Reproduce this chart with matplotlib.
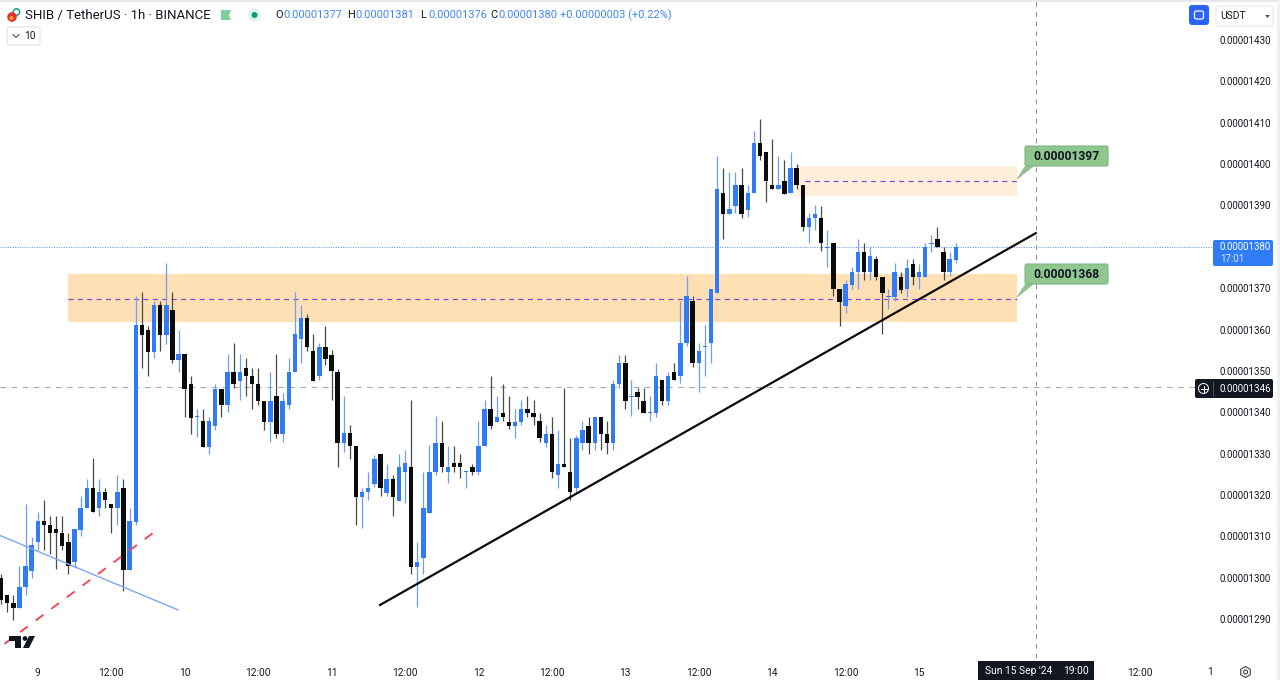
import numpy as np
import matplotlib
matplotlib.use("Agg")
import matplotlib.pyplot as plt
from matplotlib.patches import FancyBboxPatch, Rectangle, Polygon, Circle, RegularPolygon
from matplotlib.ticker import FuncFormatter

plt.rcParams['font.family'] = ['Roboto', 'DejaVu Sans']

# prices are in units of 0.00000001, hours counted from 9 Sep 00:00
first_hour = -6
opens = [
    1299.9, 1295.8, 1293.8, 1292.6, 1297.7, 1301.7, 1308.7, 1313.8, 1312.8, 1311.7,
    1310.8, 1308.7, 1303.7, 1311.6, 1316.8, 1321.8, 1316.8, 1320.8, 1317.8, 1316.8,
    1321.8, 1301.9, 1313.5, 1361, 1360, 1354.6, 1365.9, 1358.6, 1364.8, 1352.6,
    1354, 1346.8, 1338.8, 1337.8, 1331.6, 1336.7, 1345.7, 1341.7, 1349.8, 1347.6,
    1350.8, 1348.7, 1346.8, 1342.8, 1337.7, 1343.9, 1334.7, 1341.7, 1349.8, 1357.8,
    1362.7, 1354.8, 1348.7, 1355.7, 1353.8, 1349.8, 1332.6, 1334.9, 1331.8, 1319.6,
    1320.6, 1322.6, 1329.8, 1320.5, 1323.8, 1318.6, 1325.6, 1326.8, 1302.7, 1304.7,
    1315.7, 1325.6, 1332.6, 1325.6, 1327.8, 1327.8, 1325.6, 1326.7, 1325.6, 1331.8,
    1340.7, 1337.7, 1339.9, 1337.7, 1336.7, 1337.7, 1340.7, 1339.9, 1337.9, 1332.6,
    1334.7, 1324.8, 1327.6, 1325.6, 1321.8, 1332.6, 1336.7, 1332.6, 1338.9, 1334.7,
    1332.6, 1346.8, 1351.8, 1343.8, 1344.9, 1342.8, 1339.8, 1339.7, 1347.8, 1342.8,
    1349.8, 1348.8, 1356.8, 1367, 1351.9, 1355.8, 1356.8, 1368.9, 1392.9, 1387.9,
    1389.9, 1395, 1388.9, 1392.9, 1405, 1403, 1395, 1393.9, 1396, 1392.9,
    1399, 1395, 1384.7, 1386.9, 1386.9, 1379.8, 1380.8, 1369.7, 1365.7, 1370.7,
    1373.8, 1378.8, 1373.8, 1377, 1372.8, 1367.8, 1367.8, 1372.8, 1369.7, 1375.8,
    1372.8, 1372.8, 1380.7, 1381.9, 1378.8, 1373.8, 1376.9,
]
closes = [
    1294.6, 1293.8, 1292.6, 1297.7, 1302.9, 1307.9, 1313.8, 1312.8, 1310.8, 1310.8,
    1307.7, 1302.9, 1311.7, 1316.8, 1321.8, 1315.8, 1320.8, 1318.7, 1316.8, 1320.8,
    1301.9, 1313.8, 1361, 1358.6, 1354.6, 1365.9, 1358.6, 1365.9, 1352.6, 1354,
    1345.7, 1338.7, 1339, 1331.6, 1337.8, 1345.7, 1341.7, 1349.8, 1346.8, 1349.8,
    1348.7, 1346.8, 1342.7, 1337.7, 1342.8, 1334.7, 1342.8, 1349.8, 1358.9, 1362.7,
    1355.7, 1347.6, 1355.7, 1352.8, 1350, 1332.6, 1334.9, 1331.8, 1319.6, 1320.8,
    1321.8, 1328.8, 1321.8, 1323.8, 1319.6, 1326.8, 1327.8, 1302.7, 1303.7, 1316.8,
    1325.6, 1332.6, 1326.7, 1326.7, 1326.7, 1326.7, 1325.8, 1325.6, 1331.8, 1340.7,
    1336.7, 1338.9, 1338.8, 1336.7, 1337.7, 1340.7, 1339.7, 1338.8, 1333.7, 1334.7,
    1325.6, 1327.6, 1326.7, 1320.6, 1333.7, 1335.7, 1332.6, 1338.9, 1334.7, 1332.6,
    1346.8, 1351.8, 1342.8, 1344, 1343.7, 1339.9, 1340, 1348.7, 1342.8, 1348.7,
    1347.8, 1356.8, 1368, 1351.9, 1354.9, 1356, 1369.8, 1393.9, 1387.9, 1389.1,
    1395, 1387.9, 1392.9, 1405, 1401.9, 1395.9, 1393.9, 1395, 1392.8, 1399,
    1395, 1384.7, 1386.9, 1387.9, 1380.8, 1380, 1369.7, 1366.7, 1370.9, 1373.8,
    1378.8, 1373.8, 1377.8, 1372.8, 1368.9, 1368, 1373.8, 1369.5, 1374.8, 1372.8,
    1373.8, 1379.9, 1380.9, 1379.9, 1373.8, 1377, 1379.9,
]
highs = [
    1301, 1295.8, 1295.8, 1302.9, 1317.8, 1309.9, 1315.8, 1318.8, 1314.8, 1314.8,
    1314.8, 1310.8, 1311.7, 1319.8, 1323.8, 1328.9, 1323.8, 1321.8, 1317.8, 1324.9,
    1323.8, 1316.8, 1368, 1369, 1360.8, 1366.9, 1366.9, 1376, 1369, 1360,
    1354, 1348.7, 1340.9, 1340.7, 1338.9, 1346.8, 1345.7, 1354, 1356.8, 1354,
    1353, 1350.8, 1350.8, 1342.8, 1349.8, 1354, 1344.7, 1353, 1369, 1365.9,
    1363.7, 1358.9, 1356.8, 1360.9, 1355, 1350.5, 1343.9, 1336.9, 1331.8, 1321.6,
    1325.6, 1329.7, 1329.8, 1327.6, 1324.8, 1329.9, 1330.9, 1343, 1308.7, 1325.6,
    1332, 1339, 1337.9, 1331.8, 1331.8, 1329.8, 1325.8, 1327.6, 1337.9, 1343,
    1348.7, 1343.9, 1346.8, 1343.9, 1340.7, 1343, 1343.9, 1343, 1339.7, 1336.9,
    1338.9, 1335.7, 1345.8, 1333.7, 1334.6, 1337.9, 1338.9, 1338.9, 1338.9, 1337.9,
    1347.8, 1353.9, 1353.9, 1347.8, 1345.8, 1345.8, 1343.9, 1351.8, 1347.8, 1349.8,
    1351.9, 1367, 1373, 1368, 1356.8, 1361.1, 1369.8, 1402, 1399, 1398,
    1398, 1399, 1395, 1408, 1411, 1403, 1406, 1402, 1401, 1403,
    1400, 1395, 1388.1, 1390.1, 1389.9, 1384, 1380.8, 1369.7, 1372, 1375,
    1381.9, 1380.8, 1379.9, 1377.8, 1372.8, 1369.7, 1376, 1373.8, 1377, 1377,
    1375.8, 1380.8, 1382.8, 1384.8, 1379.9, 1378.8, 1380.8,
]
lows = [
    1293.7, 1291.8, 1289.8, 1292.6, 1295.8, 1299.9, 1306.7, 1306.7, 1305.8, 1302.1,
    1306.7, 1300.9, 1302.3, 1310, 1316.8, 1315.8, 1314.8, 1316.8, 1310.8, 1312.8,
    1296.7, 1301.9, 1312.7, 1350.8, 1348.8, 1353, 1354.8, 1356.6, 1352, 1349.8,
    1338.9, 1334.7, 1334, 1331.6, 1330, 1335.8, 1338.9, 1340.1, 1345.9, 1342.9,
    1343.9, 1340.7, 1341.7, 1335.8, 1332.9, 1333.8, 1332.9, 1340.9, 1349.8, 1351.8,
    1354.8, 1347.6, 1347.9, 1351.4, 1343, 1326.8, 1330.5, 1328.8, 1312.7, 1311.9,
    1318.9, 1322, 1319.8, 1319.7, 1314.9, 1318.6, 1318, 1300.9, 1293, 1300.9,
    1315.7, 1324.8, 1325.6, 1322.8, 1325.6, 1324, 1321.8, 1324.8, 1324.8, 1331.8,
    1335.9, 1337.7, 1338, 1335.9, 1333.7, 1336.9, 1338.9, 1336.9, 1332.9, 1331.7,
    1324, 1321.8, 1326.7, 1318.9, 1320.8, 1330.9, 1329.9, 1330.9, 1330.9, 1330,
    1330.9, 1345.8, 1340.7, 1339, 1340.7, 1339.7, 1337.9, 1338.9, 1341.7, 1341.7,
    1347.8, 1347, 1355.9, 1350.9, 1345, 1348.8, 1351.9, 1368.9, 1382, 1387.9,
    1388.1, 1386.9, 1387.2, 1392.9, 1401, 1390.9, 1393.9, 1393.9, 1392.8, 1392.9,
    1394, 1383.9, 1380.9, 1384.1, 1379, 1375, 1368.1, 1360.9, 1363.9, 1369.9,
    1369.9, 1372, 1372, 1372, 1358.9, 1364.9, 1367, 1368.9, 1367.9, 1370.7,
    1369.9, 1372.8, 1378.8, 1379.9, 1372, 1373, 1376.1,
]

price_ticks = [1290, 1300, 1310, 1320, 1330, 1340, 1350, 1360, 1370, 1390, 1400, 1410, 1420, 1430]
time_ticks = [0, 12, 24, 36, 48, 60, 72, 84, 96, 108, 120, 132, 144, 180]
time_labels = ['9', '12:00', '10', '12:00', '11', '12:00', '12', '12:00', '13', '12:00', '14', '12:00', '15', '12:00']

zone_hours = [4.93, 159.97]
zone_prices = [1361.8, 1373.4]
zone_mid = 1367.5
upper_zone_hours = [124.07, 159.97]
upper_zone_prices = [1392.3, 1399.5]
upper_zone_mid = 1395.9
upper_mid_start = 125.4

trend_hours = [55.92, 163.07]
trend_prices = [1293.4, 1383.3]
blue_line_hours = [-6.18, 22.91]
blue_line_prices = [1310.2, 1292.2]
red_line_hours = [-6.18, 18.82]
red_line_prices = [1283.2, 1310.8]

last_price = 1380
cross_price = 1346
cross_hour = 163.07

UP = '#2f7cf6'
UP_WICK = '#6d9ff5'
DOWN = '#0b0b0b'
DOWN_WICK = '#4a4a4a'
TEXT = '#131722'
DARK = '#131722'
MID = '#7a4fd6'

W, H = 1280, 680
PANE_R, PANE_B = 1212, 658
ORIGIN_X = 37.8
PX_PER_HOUR = 6.12
PX_PER_UNIT = 4.136

fig = plt.figure(figsize=(W / 100, H / 100), dpi=100, facecolor='white')
ax = fig.add_axes([0, 1 - PANE_B / H, PANE_R / W, PANE_B / H])
ax.set_xlim((0 - ORIGIN_X) / PX_PER_HOUR, (PANE_R - ORIGIN_X) / PX_PER_HOUR)
ax.set_ylim(1430 - (PANE_B - 40) / PX_PER_UNIT, 1430 + 40 / PX_PER_UNIT)
for s in ax.spines.values():
    s.set_visible(False)

ax.yaxis.tick_right()
ax.set_yticks(price_ticks)
ax.yaxis.set_major_formatter(FuncFormatter(lambda v, pos: f"0.{int(v):08d}"))
ax.set_xticks(time_ticks)
ax.set_xticklabels(time_labels)
ax.tick_params(axis='y', length=0, pad=5.5, labelsize=7.0, labelcolor=TEXT)
ax.tick_params(axis='x', length=0, pad=7.2, labelsize=7.3, labelcolor=TEXT)

# zones
ax.add_patch(Rectangle((zone_hours[0], zone_prices[0]), zone_hours[1] - zone_hours[0],
                       zone_prices[1] - zone_prices[0], fc='#ffe0b5', ec='none', zorder=1))
ax.add_patch(Rectangle((upper_zone_hours[0], upper_zone_prices[0]), upper_zone_hours[1] - upper_zone_hours[0],
                       upper_zone_prices[1] - upper_zone_prices[0], fc='#feeeda', ec='none', zorder=1))
ax.plot(zone_hours, [zone_mid, zone_mid], color=MID, lw=0.9, ls=(0, (4, 3.5)), zorder=1.5)
ax.plot([upper_mid_start, upper_zone_hours[1]], [upper_zone_mid, upper_zone_mid],
        color=MID, lw=0.9, ls=(0, (4, 3.5)), zorder=1.5)

# crosshair and last price line
ax.axhline(last_price, color='#4f8ff0', lw=0.7, ls=(0, (1, 1.5)), zorder=1.6)
ax.axhline(cross_price, color='#a8a8a8', lw=0.8, ls=(0, (5, 5)), zorder=1.6)
ax.axvline(cross_hour, color='#8c8c8c', lw=0.7, ls=(0, (5, 5)), zorder=1.6)

# candles
hours = np.arange(first_hour, first_hour + len(opens))
o = np.array(opens)
c = np.array(closes)
up = c >= o
ax.vlines(hours[up], np.array(lows)[up], np.array(highs)[up], color=UP_WICK, lw=0.9, zorder=2)
ax.vlines(hours[~up], np.array(lows)[~up], np.array(highs)[~up], color=DOWN_WICK, lw=0.9, zorder=2)
ax.bar(hours, np.abs(c - o), bottom=np.minimum(o, c), width=0.72,
       color=[UP if u else DOWN for u in up], lw=0, zorder=3)

# drawn lines
ax.plot(blue_line_hours, blue_line_prices, color='#7ea6f4', lw=1.0, zorder=4)
ax.plot(red_line_hours, red_line_prices, color='#f04a5c', lw=1.4, ls=(7.1, (5, 5)), zorder=4)
ax.plot(trend_hours, trend_prices, color='#0b0b0b', lw=1.6, zorder=5)

# overlay in pixel coordinates for the interface parts
ov = fig.add_axes([0, 0, 1, 1], facecolor='none')
ov.set_xlim(0, W)
ov.set_ylim(H, 0)
ov.axis('off')


def box(x0, y0, x1, y1, fc, ec='none', r=2, lw=0.8, z=6):
    ov.add_patch(FancyBboxPatch((x0 + r, y0 + r), x1 - x0 - 2 * r, y1 - y0 - 2 * r,
                                boxstyle=f"round,pad={r},rounding_size={r}", fc=fc, ec=ec, lw=lw, zorder=z))


ov.add_patch(Rectangle((0, 0), W, 1.5, fc='#e6e8ee', ec='none', zorder=6))
ov.add_patch(Rectangle((1277, 0), 3, H, fc='#eef0f5', ec='none', zorder=6))

# callouts
for y_top, tip_y, label in [(146, 179, '0.00001397'), (264, 297, '0.00001368')]:
    ov.add_patch(Polygon([(1017, tip_y), (1027, y_top + 18), (1036, y_top + 18)], fc='#8fc48f', ec='#9ab89a', lw=0.6, zorder=6))
    box(1025, y_top, 1108, y_top + 20, '#8fc78f', ec='#7fb583', r=2)
    ov.text(1066, y_top + 10, label, ha='center', va='center', fontsize=8.7, fontweight='bold', color=TEXT, zorder=7)

# price labels
box(1213, 240, 1273, 266, '#2f7cf6', r=2)
ov.text(1220, 247.5, '0.00001380', color='white', fontsize=7.0, va='center', zorder=7)
ov.text(1220, 259, '17:01', color='#dce8ff', fontsize=7.0, va='center', zorder=7)
box(1195, 379, 1273, 398, DARK, r=2)
ov.plot([1213, 1213], [381, 396], color='#555a66', lw=0.6, zorder=7)
ov.add_patch(Circle((1203.5, 388.5), 5, fc='none', ec='white', lw=0.7, zorder=7))
ov.plot([1200.5, 1206.5], [388.5, 388.5], color='white', lw=0.7, zorder=7)
ov.plot([1203.5, 1203.5], [385.5, 391.5], color='white', lw=0.7, zorder=7)
ov.text(1220, 388.5, '0.00001346', color='white', fontsize=7.0, va='center', zorder=7)

# time axis
ov.add_patch(Rectangle((978, 661), 116, 19, fc=DARK, ec='none', zorder=6))
ov.text(985, 671.5, "Sun 15 Sep '24", color='white', fontsize=7.4, va='center', zorder=7)
ov.text(1063, 671.5, '19:00', color='white', fontsize=7.4, va='center', zorder=7)
ov.text(1210, 672, '1', color=TEXT, fontsize=7.3, ha='center', va='center', zorder=7)
ov.add_patch(RegularPolygon((1245.5, 672), 6, radius=5.5, fc='none', ec='#3a3f4b', lw=0.8, zorder=7))
ov.add_patch(Circle((1245.5, 672), 2, fc='none', ec='#3a3f4b', lw=0.8, zorder=7))

# header
ov.add_patch(Circle((12, 17), 4.8, fc='#e5322d', ec='none', zorder=7))
ov.add_patch(Circle((11.5, 18), 2, fc='#f6a623', ec='none', zorder=7))
ov.add_patch(Circle((16.5, 12), 3.2, fc='none', ec='#1f9e8f', lw=1.1, zorder=6))
ov.text(25, 15.5, 'SHIB / TetherUS · 1h · BINANCE', color=TEXT, fontsize=9.5, va='center', zorder=7)
ov.add_patch(Polygon([(221, 10), (231, 10), (229, 15), (231, 20), (221, 20)], fc='#7fcf9a', ec='none', zorder=7))
ov.add_patch(Circle((254.5, 15), 6.5, fc='#e0f3ef', ec='none', zorder=6))
ov.add_patch(Circle((254.5, 15), 3, fc='#0f9d82', ec='none', zorder=7))

header_parts = [(275, 'O', '0.00001377'), (347, 'H', '0.00001381'), (420, 'L', '0.00001376'), (490, 'C', '0.00001380')]
for x, letter, val in header_parts:
    ov.text(x, 15.5, letter, color=TEXT, fontsize=7.9, va='center', zorder=7)
    ov.text(x + 8, 15.5, val, color='#3f86f3', fontsize=7.9, va='center', zorder=7)
ov.text(560, 15.5, '+0.00000003 (+0.22%)', color='#3f86f3', fontsize=7.9, va='center', zorder=7)

box(7, 27, 40, 45, 'white', ec='#e0e3eb', r=2)
ov.plot([13, 16, 19], [34.5, 37.5, 34.5], color='#50535e', lw=0.8, zorder=7)
ov.text(24, 36, '10', color=TEXT, fontsize=7.3, va='center', zorder=7)

# top right controls
box(1189, 5, 1209, 25, '#2962ff', r=3)
box(1194.5, 11, 1203.5, 19, 'none', ec='white', r=2, lw=0.9, z=7)
box(1216, 6, 1273, 26, 'white', ec='#e6e8ee', r=2)
ov.text(1220, 16, 'USDT', color=TEXT, fontsize=7.4, va='center', zorder=7)
ov.add_patch(Polygon([(1265, 15), (1270, 15), (1267.5, 18)], fc='#50535e', ec='none', zorder=7))

# chart logo
ov.add_patch(Polygon([(9, 636), (21, 636), (21, 648), (15, 648), (15, 641), (9, 641)], fc=TEXT, ec='none', zorder=7))
ov.add_patch(Circle((25, 638.5), 2.4, fc=TEXT, ec='none', zorder=7))
ov.add_patch(Polygon([(29, 636), (35, 636), (29, 648), (23, 648)], fc=TEXT, ec='none', zorder=7))

fig.savefig('out.png', dpi=100)
plt.close(fig)
